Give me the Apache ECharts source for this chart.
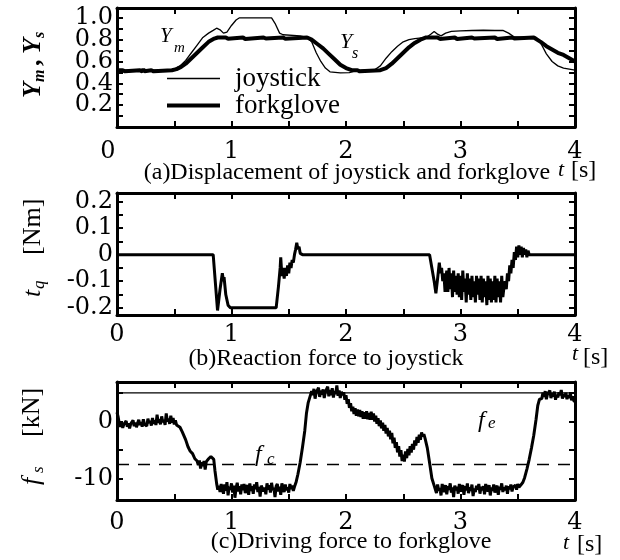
<!DOCTYPE html>
<html>
<head>
<meta charset="utf-8">
<script src="https://cdn.jsdelivr.net/npm/echarts@6/dist/echarts.min.js"></script>
<style>
  html, body { margin: 0; padding: 0; background: #fff; }
  #chart { width: 620px; height: 560px; }
</style>
</head>
<body>
<div id="chart"></div>
<script>
(function() {
  var ink = '#000';
  var serif = '"Liberation Serif", "Times New Roman", serif';
  var tickFont = '"DejaVu Serif", serif';

  // ---- data: (a) displacement, [t, value] ----
  var joystick = [
    [0, 0.52], [0.45, 0.52], [0.5, 0.53], [0.55, 0.56], [0.6, 0.61], [0.65, 0.68], [0.7, 0.75],
    [0.75, 0.82], [0.8, 0.86], [0.84, 0.885], [0.87, 0.905], [0.9, 0.89], [0.93, 0.86], [0.96, 0.87],
    [1.0, 0.93], [1.04, 0.98], [1.07, 1.0], [1.35, 1.0], [1.38, 0.95], [1.42, 0.86], [1.45, 0.845],
    [1.6, 0.835], [1.66, 0.82], [1.7, 0.78], [1.74, 0.68], [1.78, 0.6], [1.82, 0.54], [1.86, 0.505],
    [1.95, 0.495], [2.03, 0.498], [2.08, 0.515], [2.15, 0.52], [2.25, 0.525], [2.3, 0.56], [2.35, 0.63],
    [2.4, 0.69], [2.45, 0.74], [2.5, 0.78], [2.55, 0.8], [2.6, 0.81], [2.7, 0.82], [2.74, 0.85],
    [2.77, 0.875], [2.8, 0.85], [2.83, 0.835], [2.87, 0.86], [2.92, 0.875], [3.0, 0.88], [3.1, 0.884],
    [3.2, 0.886], [3.3, 0.884], [3.37, 0.885], [3.42, 0.86], [3.47, 0.825], [3.6, 0.82], [3.66, 0.82],
    [3.7, 0.77], [3.75, 0.67], [3.8, 0.6], [3.85, 0.56], [3.9, 0.54], [4.0, 0.52]
  ];
  var forkglove = [
    [0, 0.52], [0.05, 0.52], [0.06, 0.535], [0.07, 0.51], [0.08, 0.52], [0.2, 0.52], [0.21, 0.535],
    [0.22, 0.508], [0.23, 0.53], [0.24, 0.51], [0.25, 0.52], [0.3, 0.52], [0.31, 0.532], [0.32, 0.51],
    [0.33, 0.52], [0.48, 0.52], [0.52, 0.53], [0.56, 0.55], [0.6, 0.58], [0.65, 0.63], [0.7, 0.68],
    [0.75, 0.73], [0.8, 0.78], [0.85, 0.81], [0.88, 0.82], [0.95, 0.82], [0.96, 0.835], [0.97, 0.808],
    [0.98, 0.82], [1.1, 0.82], [1.11, 0.836], [1.12, 0.806], [1.13, 0.82], [1.28, 0.82], [1.29, 0.835],
    [1.3, 0.81], [1.31, 0.82], [1.45, 0.82], [1.46, 0.833], [1.47, 0.808], [1.48, 0.82], [1.66, 0.82],
    [1.7, 0.8], [1.75, 0.76], [1.8, 0.72], [1.85, 0.67], [1.9, 0.62], [1.95, 0.57], [2.0, 0.54],
    [2.05, 0.52], [2.1, 0.52], [2.11, 0.532], [2.12, 0.51], [2.13, 0.52], [2.3, 0.52], [2.35, 0.54],
    [2.4, 0.58], [2.45, 0.63], [2.5, 0.68], [2.55, 0.73], [2.6, 0.77], [2.65, 0.8], [2.7, 0.82],
    [2.8, 0.82], [2.81, 0.835], [2.82, 0.807], [2.83, 0.82], [2.95, 0.82], [2.96, 0.834], [2.97, 0.806],
    [2.98, 0.82], [3.1, 0.82], [3.11, 0.835], [3.12, 0.81], [3.13, 0.82], [3.3, 0.82], [3.31, 0.834],
    [3.32, 0.806], [3.33, 0.822], [3.45, 0.82], [3.46, 0.836], [3.47, 0.81], [3.48, 0.82], [3.64, 0.82],
    [3.7, 0.78], [3.75, 0.74], [3.8, 0.71], [3.85, 0.68], [3.9, 0.66], [3.95, 0.63], [4.0, 0.6]
  ];

  // ---- data: (b) reaction torque ----
  var tqHead = [
    [0, 0], [0.84, 0], [0.878, -0.21], [0.9, -0.13], [0.92, -0.07], [0.93, -0.1], [0.935, -0.085],
    [0.95, -0.15], [0.97, -0.19], [0.99, -0.2], [1.39, -0.2], [1.41, -0.12], [1.425, -0.05],
    [1.43, -0.01], [1.44, -0.08], [1.45, -0.05], [1.46, -0.09], [1.47, -0.05], [1.48, -0.08],
    [1.49, -0.04], [1.5, -0.07], [1.51, -0.03], [1.52, -0.05], [1.53, -0.02], [1.54, -0.03],
    [1.55, 0.0], [1.56, 0.02], [1.57, 0.045], [1.58, 0.02], [1.59, 0.03], [1.6, 0.005], [1.62, 0],
    [2.73, 0], [2.75, -0.05], [2.77, -0.1], [2.785, -0.145], [2.8, -0.09], [2.815, -0.03],
    [2.825, -0.07], [2.835, -0.05], [2.845, -0.1], [2.855, -0.07], [2.865, -0.14], [2.875, -0.08]
  ];
  var tqBandStart = 2.88, tqBandStep = 0.01;
  var tqBand = [
    -0.06, -0.14, -0.05, -0.13, -0.07, -0.16, -0.06, -0.14, -0.08, -0.15,
    -0.07, -0.16, -0.08, -0.17, -0.06, -0.14, -0.09, -0.18, -0.07, -0.15,
    -0.09, -0.17, -0.08, -0.16, -0.10, -0.18, -0.08, -0.15, -0.09, -0.17,
    -0.08, -0.18, -0.09, -0.16, -0.10, -0.19, -0.08, -0.17, -0.09, -0.18,
    -0.10, -0.17, -0.08, -0.18, -0.09, -0.16, -0.10, -0.18, -0.08, -0.16,
    -0.12
  ];
  var tqTail = [
    [3.39, -0.1], [3.4, -0.13], [3.41, -0.07], [3.42, -0.1], [3.43, -0.04], [3.44, -0.07],
    [3.45, -0.02], [3.46, -0.05], [3.47, 0.01], [3.48, -0.02], [3.49, 0.03], [3.5, -0.01],
    [3.51, 0.035], [3.52, 0.0], [3.53, 0.03], [3.54, -0.01], [3.55, 0.025], [3.56, 0.0],
    [3.57, 0.02], [3.58, -0.01], [3.59, 0.015], [3.6, 0], [4, 0]
  ];

  // ---- data: (c) driving force, noisy stretches sampled every 10 ms ----
  var fsStep = 0.01;
  var fsStart0 = 0.00;
  var fsSeg0 = [
    1.6, 0.8, -0.4, -0.9, -0.2, -1.1, -0.5, -0.8, 0.1, -0.9,
    -0.3, -1.2, -0.4, -0.7, 0.2, -0.8, -0.2, -1.0, -0.3, 0.3,
    -0.6, -0.1, -0.9, 0.4, -0.5, -0.2, -0.8, 0.5, -0.3, 0.1,
    -0.7, 0.6, -0.4, 0.2, -0.6, 1.2, -0.2, 0.4, -0.5, 0.9,
    -0.1, 0.3, -0.6, 1.4, 0.0, 0.5, -0.4, 1.0, -0.2, 0.6,
    -0.5, 0.2, -0.6
  ];
  var fsDrop1 = [
    [0.55, -1.0], [0.57, -1.8], [0.6, -3.2], [0.62, -4.4], [0.64, -5.2], [0.66, -5.6], [0.68, -6.5],
    [0.7, -6.9], [0.71, -7.6], [0.72, -6.8], [0.73, -8.2], [0.74, -7.1], [0.75, -7.8], [0.76, -6.9],
    [0.77, -8.4], [0.78, -7.0], [0.79, -7.3], [0.8, -6.5], [0.81, -6.8], [0.82, -6.1], [0.83, -5.9],
    [0.845, -6.6], [0.855, -8.5], [0.87, -10.8], [0.88, -11.9]
  ];
  var fsStart1 = 0.89;
  var fsSeg1 = [
    -11.2, -12.3, -10.9, -11.8, -12.6, -11.0, -12.1, -10.6, -12.9, -11.4,
    -11.9, -10.8, -12.4, -11.2, -13.3, -11.6, -10.7, -12.2, -11.3, -12.7,
    -11.0, -12.0, -10.9, -12.5, -11.5, -11.1, -12.8, -10.8, -12.1, -11.3,
    -12.6, -11.0, -11.8, -10.6, -12.3, -11.4, -13.1, -11.2, -10.9, -12.2,
    -11.5, -12.7, -10.8, -11.9, -11.1, -12.4, -10.7, -12.0, -11.6, -13.2,
    -11.3, -10.9, -12.2, -11.4, -12.8, -10.8, -11.7, -12.3, -11.0, -12.0,
    -11.5, -12.4, -10.9, -11.8, -11.2, -12.1, -11.4
  ];
  var fsRise1 = [
    [1.565, -10.5], [1.58, -9.2], [1.6, -7.1], [1.62, -4.5], [1.64, -1.6], [1.655, 1.5],
    [1.67, 3.3], [1.685, 4.3]
  ];
  var fsStart2 = 1.69;
  var fsSeg2 = [
    4.2, 5.3, 4.6, 5.7, 4.0, 5.1, 4.8, 5.9, 4.3, 5.4,
    4.7, 5.6, 4.1, 5.2, 4.9, 6.1, 4.4, 5.5, 4.6, 5.8,
    4.2, 5.3, 4.8, 6.3, 4.5, 5.4, 4.1, 5.2, 4.6
  ];
  var fsStart3 = 1.98;
  var fsSeg3 = [
    5.1, 3.8, 4.6, 3.1, 3.9, 2.4, 3.2, 1.8, 2.6, 1.3,
    2.3, 1.0, 2.1, 0.9, 2.0, 0.8, 1.8, 0.5, 1.6, 0.5,
    1.8, 0.4, 1.5, 0.3, 1.7, 0.3, 1.4, 0.0, 1.0, -0.4,
    0.6, -0.8, 0.2, -1.2, -0.2, -1.6, -0.6, -2.1, -1.1, -2.6,
    -1.6, -3.1, -2.0, -3.8, -2.8, -4.6, -3.6, -5.4, -4.3, -6.1,
    -5.0, -6.9, -5.8, -7.0, -5.2, -6.4, -4.8, -5.9, -4.3, -5.4,
    -3.9, -4.9, -3.3, -4.2, -2.7, -3.7, -2.3, -3.2, -1.9, -2.6
  ];
  var fsDrop2 = [
    [2.68, -2.2], [2.69, -2.9], [2.71, -4.6], [2.73, -7.2], [2.75, -9.9], [2.77, -11.2]
  ];
  var fsStart4 = 2.78;
  var fsSeg4 = [
    -11.4, -12.5, -11.0, -12.1, -11.6, -12.9, -10.9, -11.8, -12.3, -11.1,
    -12.7, -11.3, -11.9, -10.8, -12.4, -11.5, -13.2, -11.2, -12.0, -11.4,
    -12.6, -10.9, -12.2, -11.6, -11.1, -12.8, -11.3, -12.0, -10.8, -12.5,
    -11.5, -12.1, -11.0, -13.0, -11.7, -12.3, -11.2, -11.9, -10.9, -12.6,
    -11.4, -12.0, -11.3, -12.7, -10.9, -11.8, -12.2, -11.1, -12.9, -11.5,
    -12.1, -11.0, -12.4, -11.6, -11.2, -12.8, -11.4, -11.9, -10.8, -12.3,
    -11.5, -12.0, -11.2, -12.6, -11.3, -11.8, -11.0, -12.2, -11.4, -11.7,
    -11.1, -11.9, -10.9, -11.5, -11.2, -11.0
  ];
  var fsRise2 = [
    [3.545, -10.6], [3.56, -9.8], [3.58, -8.3], [3.6, -6.6], [3.62, -4.6], [3.64, -2.4],
    [3.66, 0.4], [3.675, 2.8], [3.69, 3.9], [3.705, 4.2]
  ];
  var fsStart5 = 3.71;
  var fsSeg5 = [
    4.0, 5.0, 4.3, 5.3, 3.9, 4.8, 4.5, 5.4, 4.1, 4.9,
    4.4, 5.2, 3.8, 4.7, 4.2, 5.1, 4.6, 5.5, 4.0, 4.8,
    4.3, 5.0, 3.9, 4.6, 4.1, 4.9, 3.7, 4.4, 3.6, 3.5
  ];
  var feLevel = 5.0;
  var fcLevel = -7.5;

  // ---- axis ticks ----
  var xTickStep = 0.5;
  var yTicksA = [0.1, 0.2, 0.3, 0.4, 0.5, 0.6, 0.7, 0.8, 0.9, 1.0];
  // labels of (a) are split over two axes so that none gets dropped as overlapping
  var yLabelsA = [0.2, 0.6, 1.0];
  var yLabelsA2 = [0.4, 0.8];
  var yTicksB = [-0.2, -0.15, -0.1, -0.05, 0, 0.05, 0.1, 0.15, 0.2];
  var yLabelsB = [-0.2, -0.1, 0, 0.1, 0.2];
  var yTicksC = [-10, -5, 0, 5];
  var yLabelsC = [-10, 0];

  function sampled(t0, dt, vals) {
    return vals.map(function(v, i) { return [Math.round((t0 + i * dt) * 1000) / 1000, v]; });
  }

  var tqData = tqHead.concat(sampled(tqBandStart, tqBandStep, tqBand), tqTail);
  var fsData = [].concat(
    sampled(fsStart0, fsStep, fsSeg0), fsDrop1,
    sampled(fsStart1, fsStep, fsSeg1), fsRise1,
    sampled(fsStart2, fsStep, fsSeg2),
    sampled(fsStart3, fsStep, fsSeg3), fsDrop2,
    sampled(fsStart4, fsStep, fsSeg4), fsRise2,
    sampled(fsStart5, fsStep, fsSeg5)
  );

  var axisLine = { show: true, onZero: false, lineStyle: { color: ink, width: 3 } };
  var tickStyle = { color: ink, width: 2 };

  function xAxes(gi, margin, zeroShift) {
    return [{
      type: 'value', gridIndex: gi, min: 0, max: 4, interval: xTickStep,
      axisLine: axisLine,
      axisTick: { show: true, inside: true, length: 6, lineStyle: tickStyle },
      splitLine: { show: false },
      axisLabel: {
        margin: margin, color: ink, fontFamily: tickFont, fontSize: 24,
        showMinLabel: true, showMaxLabel: true,
        rich: { z: { fontFamily: tickFont, fontSize: 24, color: ink, padding: [0, zeroShift, 0, 0] } },
        formatter: function(v) {
          if (v === 0 && zeroShift) return '{z|0}';
          return v % 1 === 0 ? String(v) : '';
        }
      }
    }, {
      type: 'value', gridIndex: gi, position: 'top', min: 0, max: 4, interval: xTickStep,
      axisLine: axisLine,
      axisTick: { show: true, inside: true, length: 6, lineStyle: tickStyle },
      splitLine: { show: false },
      axisLabel: { show: false }
    }];
  }

  function yLabelStyle(labels, fmt) {
    return {
      margin: 4, color: ink, fontFamily: tickFont, fontSize: 24, lineHeight: 16,
      showMinLabel: true, showMaxLabel: true, hideOverlap: false, interval: 0,
      customValues: labels, formatter: fmt
    };
  }

  function yAxes(gi, min, max, ticks, labels, fmt) {
    return [{
      type: 'value', gridIndex: gi, min: min, max: max,
      axisLine: axisLine,
      axisTick: { show: true, inside: true, length: 6, lineStyle: tickStyle, customValues: ticks },
      splitLine: { show: false },
      axisLabel: yLabelStyle(labels, fmt)
    }, {
      type: 'value', gridIndex: gi, position: 'right', min: min, max: max,
      axisLine: axisLine,
      axisTick: { show: true, inside: true, length: 6, lineStyle: tickStyle, customValues: ticks },
      splitLine: { show: false },
      axisLabel: { show: false }
    }];
  }

  var fmtA = function(v) { return v.toFixed(1); };
  var xA = xAxes(0, 13, 18), xB = xAxes(1, 8, 0), xC = xAxes(2, 11, 0);
  var yA = yAxes(0, 0, 1.09, yTicksA, yLabelsA, fmtA);
  var yA2 = {
    type: 'value', gridIndex: 0, position: 'left', min: 0, max: 1.09,
    axisLine: { show: false }, axisTick: { show: false }, splitLine: { show: false },
    axisLabel: yLabelStyle(yLabelsA2, fmtA)
  };
  var yB = yAxes(1, -0.227, 0.232, yTicksB, yLabelsB, function(v) { return v === 0 ? '0' : v.toFixed(1); });
  var yC = yAxes(2, -13.7, 6.9, yTicksC, yLabelsC, function(v) { return String(v); });

  function txt(x, y, s, font, align, vAlign) {
    return { type: 'text', x: x, y: y, silent: true,
      style: { text: s, font: font, fill: ink, align: align || 'left', verticalAlign: vAlign || 'middle' } };
  }
  var fN = '24px ' + serif;

  var graphics = [
    // captions
    txt(347, 173, '(a)Displacement of joystick and forkglove', fN, 'center'),
    txt(326, 359, '(b)Reaction force to joystick', fN, 'center'),
    txt(351, 542, '(c)Driving force to forkglove', fN, 'center'),
    // t [s]
    txt(558, 170, 't', 'italic 22px ' + serif), txt(571, 171, '[s]', fN),
    txt(572, 354, 't', 'italic 22px ' + serif), txt(583, 358, '[s]', fN),
    txt(563, 543, 't', 'italic 22px ' + serif), txt(577, 545, '[s]', fN),
    // curve labels
    txt(160, 36, 'Y', 'italic 21px ' + serif), txt(174, 48, 'm', 'italic 15px ' + serif),
    txt(340, 42, 'Y', 'italic 22px ' + serif), txt(352, 54, 's', 'italic 16px ' + serif),
    txt(255, 455, 'f', 'italic 24px ' + serif), txt(267, 460, 'c', 'italic 17px ' + serif),
    txt(478, 421, 'f', 'italic 24px ' + serif), txt(488, 424, 'e', 'italic 17px ' + serif),
    // rotated axis names
    { type: 'group', x: 33, y: 98, rotation: Math.PI / 2, children: [
      txt(0, 0, 'Y', 'italic bold 26px ' + serif), txt(16, 7, 'm', 'italic bold 16px ' + serif),
      txt(32, 0, ',', 'bold 26px ' + serif),
      txt(44, 0, 'Y', 'italic bold 26px ' + serif), txt(60, 7, 's', 'italic bold 16px ' + serif)
    ] },
    { type: 'group', x: 33, y: 297, rotation: Math.PI / 2, children: [
      txt(0, 0, 't', 'italic 26px ' + serif), txt(8, 7, 'q', 'italic 17px ' + serif),
      txt(42, 0, '[Nm]', '26px ' + serif)
    ] },
    { type: 'group', x: 32, y: 485, rotation: Math.PI / 2, children: [
      txt(0, 0, 'f', 'italic 26px ' + serif), txt(12, 7, 's', 'italic 17px ' + serif),
      txt(48, 0, '[kN]', '26px ' + serif)
    ] }
  ];

  var chart = echarts.init(document.getElementById('chart'), null, { renderer: 'canvas' });
  chart.setOption({
    animation: false,
    backgroundColor: '#fff',
    grid: [
      { left: 117, right: 45, top: 8, height: 119, outerBoundsMode: 'none' },
      { left: 117, right: 45, top: 193, height: 122, outerBoundsMode: 'none' },
      { left: 117, right: 45, top: 382, height: 118, outerBoundsMode: 'none' }
    ],
    xAxis: [xA[0], xA[1], xB[0], xB[1], xC[0], xC[1]],
    yAxis: [yA[0], yA[1], yB[0], yB[1], yC[0], yC[1], yA2],
    legend: {
      data: ['joystick', 'forkglove'],
      orient: 'vertical', left: 160, top: 60,
      itemWidth: 53, itemHeight: 14, itemGap: 0,
      selectedMode: false,
      itemStyle: { opacity: 0 },
      lineStyle: { width: 'inherit' },
      textStyle: { color: ink, fontFamily: serif, fontSize: 27, lineHeight: 27, padding: [0, 0, 0, 10] }
    },
    graphic: graphics,
    series: [
      { name: 'forkglove', type: 'line', xAxisIndex: 0, yAxisIndex: 0, data: forkglove,
        symbol: 'none', lineStyle: { color: ink, width: 4 }, itemStyle: { color: ink } },
      { name: 'joystick', type: 'line', xAxisIndex: 0, yAxisIndex: 0, data: joystick,
        symbol: 'none', lineStyle: { color: ink, width: 1.3 }, itemStyle: { color: ink } },
      { name: 'tq', type: 'line', xAxisIndex: 2, yAxisIndex: 2, data: tqData,
        symbol: 'none', lineStyle: { color: ink, width: 3 } },
      { name: 'fe', type: 'line', xAxisIndex: 4, yAxisIndex: 4, data: [[0, feLevel], [4, feLevel]],
        symbol: 'none', lineStyle: { color: ink, width: 1.2 } },
      { name: 'fc', type: 'line', xAxisIndex: 4, yAxisIndex: 4, data: [[0, fcLevel], [4, fcLevel]],
        symbol: 'none', lineStyle: { color: ink, width: 1.5, type: [12, 9] } },
      { name: 'fs', type: 'line', xAxisIndex: 4, yAxisIndex: 4, data: fsData,
        symbol: 'none', lineStyle: { color: ink, width: 3 } }
    ]
  });
  window.addEventListener('resize', function() { chart.resize(); });
})();
</script>
</body>
</html>
